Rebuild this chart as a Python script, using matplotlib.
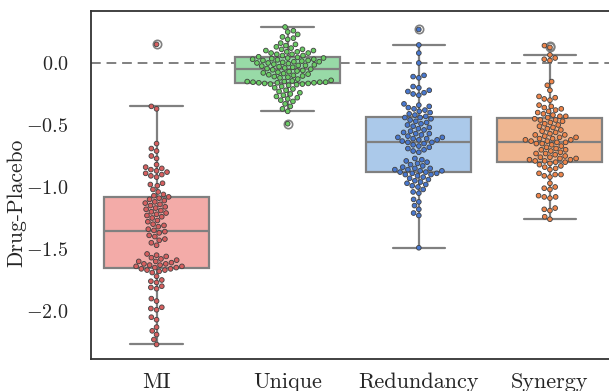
import numpy as np
import pandas as pd
import matplotlib
matplotlib.use("Agg")
import matplotlib.pyplot as plt
import seaborn as sns

categories = ["MI", "Unique", "Redundancy", "Synergy"]

mi_values = [0.15, -0.35, -0.37, -0.65, -0.69, -0.71, -0.75, -0.77, -0.82, -0.84,
             -0.85, -0.86, -0.87, -0.88, -0.89, -0.90, -0.91, -0.92, -0.97, -0.98,
             -0.99, -1.02, -1.04, -1.06, -1.07,
             -1.08, -1.09, -1.10, -1.11, -1.12, -1.13, -1.14, -1.15, -1.16, -1.17,
             -1.18, -1.19, -1.20, -1.21, -1.22, -1.23, -1.24, -1.25, -1.27, -1.28,
             -1.30, -1.31, -1.32, -1.34, -1.35,
             -1.36, -1.37, -1.39, -1.40, -1.42, -1.43, -1.45, -1.47, -1.54, -1.55,
             -1.56, -1.57, -1.58, -1.59, -1.60, -1.60, -1.61, -1.62, -1.62, -1.63,
             -1.63, -1.64, -1.64, -1.65, -1.65,
             -1.66, -1.66, -1.67, -1.67, -1.68, -1.69, -1.72, -1.75, -1.76, -1.77,
             -1.80, -1.81, -1.82, -1.90, -1.92, -1.97, -1.98, -1.99, -2.05, -2.07,
             -2.13, -2.16, -2.19, -2.23, -2.27]

unique_values = [0.29, 0.26, 0.25, 0.23, 0.21, 0.20, 0.19, 0.16, 0.15, 0.14,
                 0.13, 0.12, 0.11, 0.11, 0.10, 0.10, 0.09, 0.09, 0.08, 0.08,
                 0.07, 0.07, 0.06, 0.06, 0.05,
                 0.045, 0.04, 0.04, 0.035, 0.03, 0.03, 0.025, 0.02, 0.02, 0.015,
                 0.01, 0.01, 0.005, 0.0, 0.0, -0.005, -0.01, -0.015, -0.02, -0.02,
                 -0.025, -0.03, -0.035, -0.04, -0.045,
                 -0.05, -0.055, -0.06, -0.065, -0.07, -0.075, -0.08, -0.085, -0.09, -0.095,
                 -0.10, -0.105, -0.11, -0.115, -0.12, -0.13, -0.14, -0.145, -0.15, -0.15,
                 -0.155, -0.155, -0.155, -0.16, -0.16,
                 -0.16, -0.165, -0.165, -0.17, -0.17, -0.175, -0.18, -0.19, -0.20, -0.21,
                 -0.22, -0.23, -0.24, -0.25, -0.26, -0.27, -0.28, -0.29, -0.30, -0.31,
                 -0.33, -0.35, -0.37, -0.39, -0.49]

redundancy_values = [0.27, 0.145, 0.08, 0.0, -0.10, -0.11, -0.12, -0.19, -0.20, -0.22,
                     -0.23, -0.24, -0.25, -0.26, -0.33, -0.34, -0.35, -0.36, -0.37, -0.38,
                     -0.39, -0.40, -0.41, -0.42, -0.43,
                     -0.44, -0.44, -0.45, -0.46, -0.47, -0.48, -0.49, -0.50, -0.51, -0.52,
                     -0.53, -0.54, -0.55, -0.56, -0.57, -0.57, -0.58, -0.59, -0.60, -0.60,
                     -0.61, -0.61, -0.62, -0.62, -0.63,
                     -0.64, -0.64, -0.65, -0.66, -0.67, -0.68, -0.69, -0.70, -0.71, -0.72,
                     -0.77, -0.78, -0.79, -0.80, -0.81, -0.82, -0.83, -0.84, -0.85, -0.85,
                     -0.86, -0.86, -0.87, -0.87, -0.88,
                     -0.88, -0.89, -0.89, -0.90, -0.90, -0.91, -0.92, -0.93, -0.94, -0.95,
                     -0.96, -0.97, -0.98, -0.99, -1.00, -1.02, -1.04, -1.05, -1.10, -1.12,
                     -1.15, -1.18, -1.21, -1.23, -1.49]

synergy_values = [0.14, 0.125, 0.065, 0.04, 0.03, 0.02, -0.15, -0.18, -0.22, -0.27,
                  -0.28, -0.29, -0.30, -0.34, -0.35, -0.36, -0.37, -0.38, -0.39, -0.40,
                  -0.41, -0.42, -0.43, -0.43, -0.44,
                  -0.45, -0.46, -0.46, -0.47, -0.48, -0.49, -0.50, -0.51, -0.52, -0.53,
                  -0.54, -0.55, -0.56, -0.57, -0.58, -0.58, -0.59, -0.60, -0.60, -0.61,
                  -0.61, -0.62, -0.62, -0.63, -0.63,
                  -0.64, -0.64, -0.65, -0.65, -0.66, -0.67, -0.68, -0.69, -0.70, -0.70,
                  -0.71, -0.72, -0.73, -0.73, -0.74, -0.75, -0.76, -0.76, -0.77, -0.77,
                  -0.78, -0.78, -0.79, -0.79, -0.80,
                  -0.80, -0.81, -0.82, -0.83, -0.84, -0.85, -0.86, -0.89, -0.90, -0.90,
                  -0.91, -0.92, -0.97, -1.00, -1.01, -1.02, -1.07, -1.08, -1.08, -1.09,
                  -1.17, -1.18, -1.19, -1.24, -1.26]

box_colors = ["#FF9F9B", "#8DE5A1", "#A1C9F4", "#FFB482"]
point_colors = ["#D65F5F", "#6ACC64", "#4878D0", "#EE854A"]
yticks = [0.0, -0.5, -1.0, -1.5, -2.0]
ylabel = "Drug-Placebo"

sns.set_theme(style="white")
plt.rcParams["font.family"] = ["cmr10", "DejaVu Serif"]
plt.rcParams["mathtext.fontset"] = "cm"
plt.rcParams["axes.formatter.use_mathtext"] = True

rows = []
for cat, vals in zip(categories, [mi_values, unique_values, redundancy_values, synergy_values]):
    for v in vals:
        rows.append((cat, v))
df = pd.DataFrame(rows, columns=["group", "value"])

fig = plt.figure(figsize=(6.09, 3.91), dpi=100)
ax = fig.add_axes([91 / 609, 1 - 359 / 391, (615.5 - 91) / 609, (359 - 11) / 391])

ax.axhline(0.0, color="0.5", linestyle=(0, (5, 3)), linewidth=1.4, zorder=1.5)

sns.boxplot(data=df, x="group", y="value", hue="group", order=categories,
            hue_order=categories, palette=box_colors, legend=False, ax=ax,
            width=0.8, linecolor="0.5", linewidth=1.6,
            flierprops=dict(marker="o", markerfacecolor="none",
                            markeredgecolor="0.5", markersize=6, markeredgewidth=1.2))
sns.swarmplot(data=df, x="group", y="value", hue="group", order=categories,
              hue_order=categories, palette=point_colors, legend=False, ax=ax,
              size=3.4, linewidth=0.6, edgecolor="0.25", zorder=3)

ax.set_ylim(-2.387, 0.419)
ax.set_xlim(-0.5, 3.5)
ax.set_yticks(yticks)
ax.set_xlabel("")
ax.set_ylabel(ylabel, fontsize=15.5)
ax.yaxis.set_label_coords(-0.124, 0.448)
ax.tick_params(axis="y", labelsize=14.5, pad=10)
ax.tick_params(axis="x", labelsize=16, pad=4)
for sp in ax.spines.values():
    sp.set_color("0.2")
    sp.set_linewidth(1.3)

fig.savefig("out.png", dpi=100)
